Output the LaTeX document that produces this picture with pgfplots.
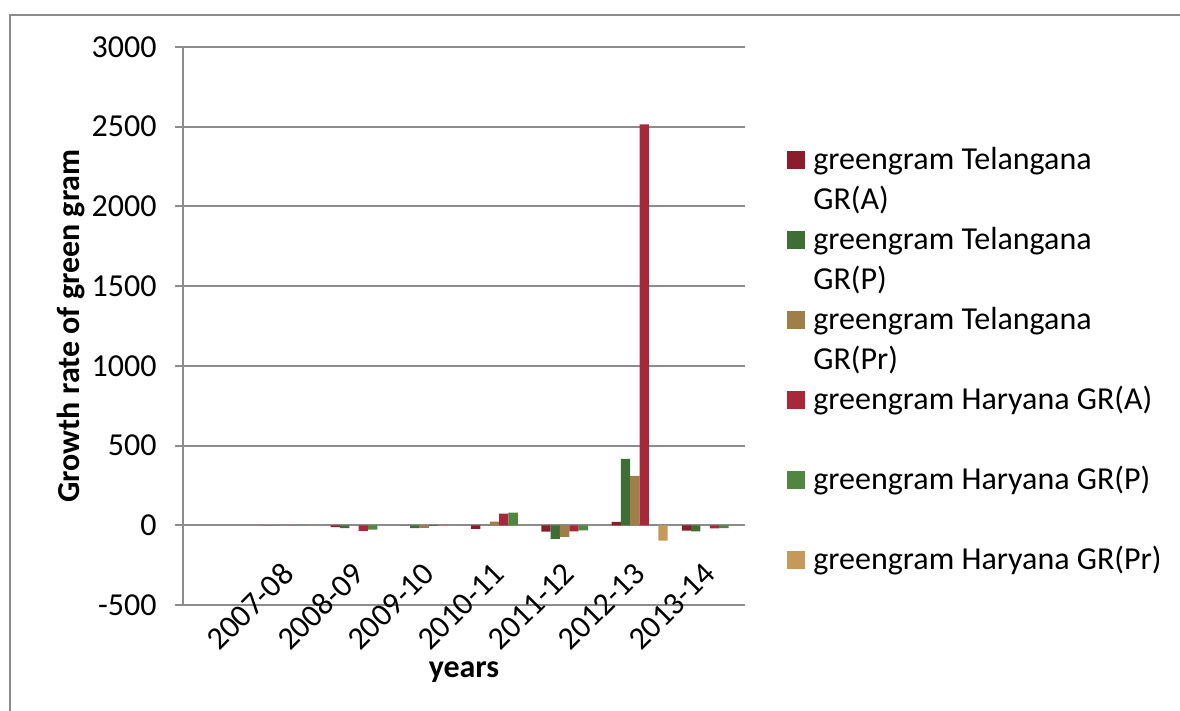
\documentclass[border=0pt]{standalone}
\usepackage{fontspec}
\setmainfont{Carlito}
\usepackage{pgfplots}
\pgfplotsset{compat=1.18}

\definecolor{telA}{HTML}{8A1C2C}
\definecolor{telP}{HTML}{3F6E35}
\definecolor{telPr}{HTML}{A07E48}
\definecolor{harA}{HTML}{A8283A}
\definecolor{harP}{HTML}{4F8741}
\definecolor{harPr}{HTML}{C59A58}
\definecolor{gridgray}{HTML}{8C8C8C}

% two-line legend cells, baseline on the first line
\newcommand{\lentry}[2]{\parbox[t]{190pt}{\strut #1\\\strut #2}}

\begin{document}
\fontsize{16}{20}\selectfont
\begin{tikzpicture}
\useasboundingbox (0,0) rectangle (590pt,355.5pt);
\draw[gridgray, line width=1pt] (5pt,0) -- (5pt,348pt) -- (590pt,348pt);
\begin{axis}[
    at={(91.5pt,53pt)}, anchor=south west,
    width=281pt, height=279pt, scale only axis,
    ybar=0pt,
    bar width=0.1333,
    xmin=-0.5, xmax=7.5,
    ymin=-500, ymax=3000,
    axis x line*=middle,
    axis y line*=left,
    axis line style={gridgray, line width=1pt},
    xtick={1,2,3,4,5,6,7},
    xticklabels={2007-08,2008-09,2009-10,2010-11,2011-12,2012-13,2013-14},
    xtick style={draw=none},
    xticklabel style={anchor=east, rotate=45, inner sep=0pt},
    xticklabel shift=17.5pt,
    ytick={-500,0,500,1000,1500,2000,2500,3000},
    yticklabels={-500,0,500,1000,1500,2000,2500,3000},
    ytick align=outside,
    major tick length=4pt,
    ytick style={gridgray, line width=1pt},
    yticklabel style={inner sep=0pt, xshift=-9pt},
    ymajorgrids,
    major grid style={gridgray, line width=1pt},
    xlabel={\bfseries years},
    xlabel style={at={(axis description cs:0.5,-0.1308)}, anchor=base},
    ylabel={\bfseries Growth rate of green gram},
    ylabel style={at={(axis description cs:-0.185,0.5)}, anchor=base, rotate=0},
    legend image code/.code={\fill[#1] (0pt,0pt) rectangle (9pt,9pt);},
    legend style={at={(axis description cs:1.0747,0.8315)}, anchor=north west,
        draw=none, inner sep=0pt, column sep=4pt, row sep=0pt,
        nodes={inner sep=0pt, anchor=base west, text height=14pt, text depth=26pt}},
    legend cell align=left,
]
\addplot[fill=telA, draw=none, bar shift=-0.3333] coordinates
    {(1,0) (2,-12) (3,0) (4,-23) (5,-40) (6,21) (7,-33)};
\addplot[fill=telP, draw=none, bar shift=-0.2] coordinates
    {(1,0) (2,-18) (3,-18) (4,0) (5,-85) (6,417) (7,-38)};
\addplot[fill=telPr, draw=none, bar shift=-0.0667] coordinates
    {(1,0) (2,0) (3,-16) (4,23) (5,-73) (6,310) (7,0)};
\addplot[fill=harA, draw=none, bar shift=0.0667] coordinates
    {(1,0) (2,-35) (3,-3) (4,73) (5,-39) (6,2515) (7,-20)};
\addplot[fill=harP, draw=none, bar shift=0.2] coordinates
    {(1,0) (2,-28) (3,0) (4,79) (5,-32) (6,0) (7,-18)};
\addplot[fill=harPr, draw=none, bar shift=0.3333] coordinates
    {(1,0) (2,0) (3,0) (4,0) (5,0) (6,-96) (7,0)};
\legend{
    \lentry{greengram Telangana}{GR(A)},
    \lentry{greengram Telangana}{GR(P)},
    \lentry{greengram Telangana}{GR(Pr)},
    \lentry{greengram Haryana GR(A)}{},
    \lentry{greengram Haryana GR(P)}{},
    \lentry{greengram Haryana GR(Pr)}{}
}
\end{axis}
\end{tikzpicture}
\end{document}
